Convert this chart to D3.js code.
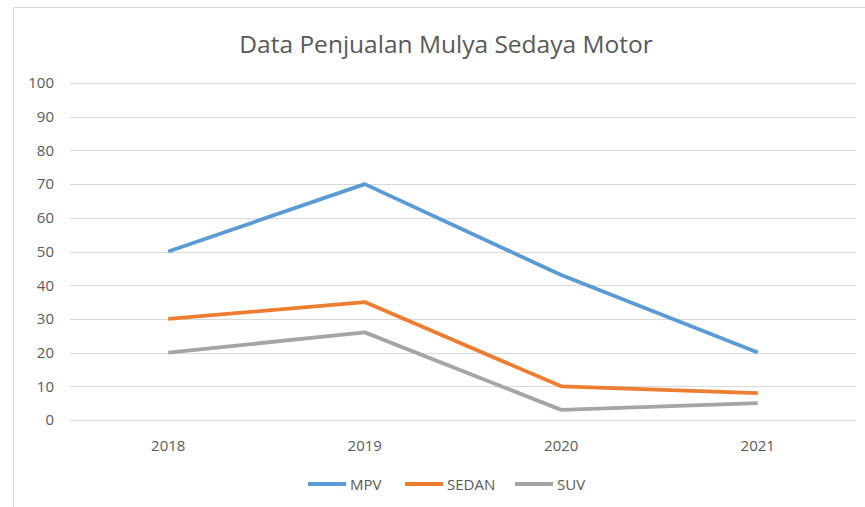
<!DOCTYPE html>
<html><head><meta charset="utf-8">
<script src="https://cdn.jsdelivr.net/npm/d3@7"></script>
<style>html,body{margin:0;padding:0;background:#fff;}svg{display:block;}</style>
</head><body>
<svg id="c" width="865" height="507"></svg>
<script>
const years = ["2018","2019","2020","2021"];
const mpv = [50,70,43,20];
const sedan = [30,35,10,8];
const suv = [20,26,3,5];
const yTicks = [0,10,20,30,40,50,60,70,80,90,100];
const seriesNames = ["MPV","SEDAN","SUV"];
const seriesColors = ["#5B9BD5","#ED7D31","#A5A5A5"];
const title = "Data Penjualan Mulya Sedaya Motor";

const series = [mpv, sedan, suv].map((v,i)=>({name:seriesNames[i], color:seriesColors[i], values:v}));
const svg = d3.select("#c");
const font = "'Open Sans', 'Noto Sans', sans-serif";
const txt = "#595959";

// chart border (top and left)
svg.append("path").attr("d","M13.5,507 L13.5,7.5 L865,7.5").attr("fill","none").attr("stroke","#D9D9D9").attr("stroke-width",1.2);

const x = d3.scaleBand().domain(years).range([70,856]);
const y = d3.scaleLinear().domain([0,100]).range([420,83]);

svg.append("text").attr("x",446).attr("y",53).attr("text-anchor","middle")
  .attr("font-family",font).attr("font-size",24.5).attr("fill",txt).text(title);

// gridlines
svg.append("g").selectAll("line").data(yTicks).join("line")
  .attr("x1",70).attr("x2",856).attr("y1",d=>Math.round(y(d))+0.5).attr("y2",d=>Math.round(y(d))+0.5)
  .attr("stroke","#D9D9D9").attr("stroke-width",1);

// y axis
const ya = svg.append("g").attr("transform","translate(70,0)")
  .call(d3.axisLeft(y).tickValues(yTicks).tickSize(0).tickPadding(16));
ya.select(".domain").remove();
ya.selectAll("text").attr("font-family",font).attr("font-size",15).attr("fill",txt);

// x axis
const xa = svg.append("g").attr("transform","translate(0,420)")
  .call(d3.axisBottom(x).tickSize(0).tickPadding(20));
xa.select(".domain").remove();
xa.selectAll("text").attr("font-family",font).attr("font-size",15).attr("fill",txt);

const line = d3.line().x((d,i)=>x(years[i])+x.bandwidth()/2).y(d=>y(d));
svg.append("g").selectAll("path").data(series).join("path")
  .attr("d",d=>line(d.values)).attr("fill","none").attr("stroke",d=>d.color)
  .attr("stroke-width",3.8).attr("stroke-linejoin","round");

// legend
const legX = [308,405,515];
const lg = svg.append("g").selectAll("g").data(series).join("g")
  .attr("transform",(d,i)=>`translate(${legX[i]},484)`);
lg.append("line").attr("x1",0).attr("x2",38).attr("stroke",d=>d.color).attr("stroke-width",3.8);
lg.append("text").attr("x",42).attr("y",6).attr("font-family",font).attr("font-size",15)
  .attr("fill",txt).text(d=>d.name);
</script>
</body></html>
